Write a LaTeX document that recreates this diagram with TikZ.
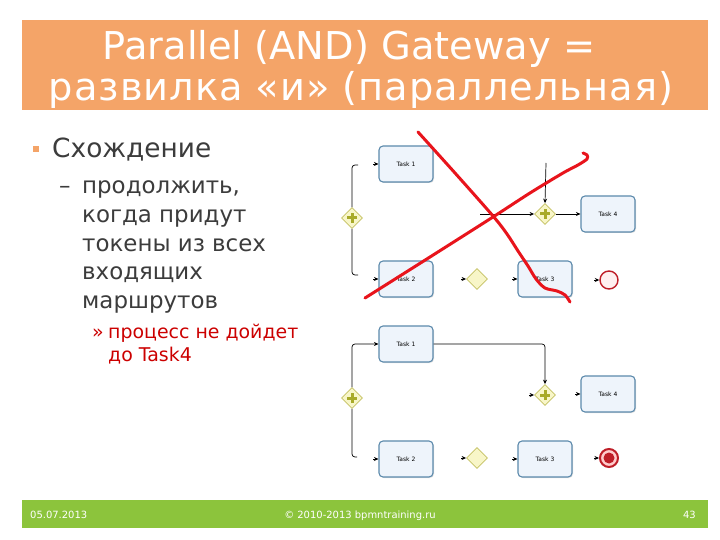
\documentclass[tikz,border=0pt]{standalone}
\usepackage{fontspec}
\setmainfont{DejaVu Sans}
\usetikzlibrary{shapes.geometric,arrows.meta,shadows}
\definecolor{titleorange}{RGB}{244,164,104}
\definecolor{footgreen}{RGB}{140,196,60}
\definecolor{taskline}{RGB}{92,138,172}
\definecolor{taskfill}{RGB}{238,244,251}
\definecolor{gwline}{RGB}{196,192,96}
\definecolor{gwfill}{RGB}{248,246,200}
\definecolor{gwplus}{RGB}{168,170,40}
\definecolor{endred}{RGB}{190,30,40}
\definecolor{strike}{RGB}{232,20,28}
\definecolor{bodytext}{RGB}{60,60,60}
\definecolor{notered}{RGB}{204,0,0}

\begin{document}
\begin{tikzpicture}[x=1bp, y=-1bp,
    task/.style={rectangle, rounded corners=4bp, draw=taskline, fill=taskfill, line width=1.1bp,
      minimum width=54bp, minimum height=36bp, font=\fontsize{6}{7}\selectfont,
      drop shadow={shadow xshift=1bp, shadow yshift=-1bp, opacity=.25}},
    gate/.style={diamond, aspect=1, draw=gwline, fill=gwfill, line width=.8bp,
      minimum width=21bp, minimum height=21bp, inner sep=0pt},
    andgate/.style={gate, path picture={\draw[gwplus, line width=3bp]
      (path picture bounding box.center) +(-5bp,0) -- +(5bp,0) +(0,-5bp) -- +(0,5bp);}},
    endev/.style={circle, draw=endred, line width=1.4bp, fill=red!6, minimum size=18bp, inner sep=0pt},
    termev/.style={endev, line width=2bp, fill=red!20, path picture={\fill[endred]
      (path picture bounding box.center) circle (5.5bp);}},
    flow/.style={-{Stealth[length=4.5bp,width=4bp]}, line width=.7bp},
    plain/.style={line width=.7bp, rounded corners=3bp},
    strikeline/.style={strike, line width=3bp, line cap=round, line join=round},
    txt/.style={anchor=base west, text=bodytext, inner sep=0pt},
    foot/.style={anchor=base, text=white, inner sep=0pt, font=\fontsize{10}{12}\selectfont}]
\useasboundingbox (0,0) rectangle (720,540);
\fill[white] (0,0) rectangle (720,540);

% title and footer
\fill[titleorange] (22,20) rectangle (708,110);
\node[anchor=base, text=white, font=\fontsize{38.5}{42}\selectfont] (title1) at (349,60) {Parallel (AND) Gateway =};
\node[anchor=base, text=white, font=\fontsize{38.5}{42}\selectfont\addfontfeature{LetterSpace=2.5}] (title2) at (361,101) {развилка «и» (параллельная)};
\fill[footgreen] (22,500) rectangle (708,528);
\node[foot, anchor=base west] (date) at (30,518) {05.07.2013};
\node[foot] (copy) at (360,518) {© 2010-2013 bpmntraining.ru};
\node[foot, anchor=base east] (page) at (696,518) {43};

% text
\fill[titleorange] (33,146) rectangle (39,152);
\node[txt, font=\fontsize{26.5}{30}\selectfont] (head) at (52,158) {Схождение};
\node[txt, font=\fontsize{23}{27}\selectfont] (dash) at (59,194) {–};
\foreach \line [count=\i from 0] in {{продолжить,}, {когда придут}, {токены из всех}, {входящих}, {маршрутов}}
  \node[txt, font=\fontsize{23}{27}\selectfont] (body\i) at (82,194+28.6*\i) {\line};
\node[txt, text=notered, font=\fontsize{19}{23}\selectfont] (quote) at (92,338) {»};
\node[txt, text=notered, font=\fontsize{19}{23}\selectfont] (note1) at (108,338) {процесс не дойдет};
\node[txt, text=notered, font=\fontsize{19}{23}\selectfont] (note2) at (108,361) {до Task4};

% upper diagram
\node[task] (t1a) at (406,164) {Task 1};
\node[task] (t2a) at (406,279) {Task 2};
\node[task] (t3a) at (545,279) {Task 3};
\node[task] (t4a) at (608,214) {Task 4};
\node[andgate] (fa) at (352,218) {};
\node[andgate] (ja) at (545,214) {};
\node[gate] (xa) at (477,279) {};
\node[endev] (ea) at (609,280) {};
\coordinate (ua) at (358,165);
\coordinate (la) at (358,275);
\coordinate (ca) at (480,214);
\coordinate (da) at (546,163);

\draw[plain] (fa.north) |- (ua);
\draw[plain] (fa.south) |- (la);
\draw[flow] ([xshift=-5bp]t1a.west) -- (t1a.west);
\draw[flow] ([xshift=-5bp]t2a.west) -- (t2a.west);
\draw[flow] ([xshift=-5bp]xa.west) -- (xa.west);
\draw[flow] ([xshift=-5bp]t3a.west) -- (t3a.west);
\draw[flow] ([xshift=-5bp]ea.west) -- (ea.west);
\draw[flow] (ca) -- (ja.west);
\draw[flow] (da) -- (ja.north);
\draw[flow] (ja.east) -- (t4a.west);

% lower diagram
\node[task] (t1b) at (406,344) {Task 1};
\node[task] (t4b) at (608,394) {Task 4};
\node[task] (t2b) at (406,459) {Task 2};
\node[task] (t3b) at (545,459) {Task 3};
\node[andgate] (fb) at (352,398) {};
\node[andgate] (jb) at (545,395) {};
\node[gate] (xb) at (477,458) {};
\node[termev] (eb) at (609,458) {};
\coordinate (lb) at (357,457);

\draw[flow, rounded corners=3bp] (fb.north) |- (t1b.west);
\draw[flow, rounded corners=3bp] (t1b.east) -| (jb.north);
\draw[plain] (fb.south) |- (lb);
\draw[flow] ([xshift=-5bp]jb.west) -- (jb.west);
\draw[flow] ([xshift=-5bp]t4b.west) -- (t4b.west);
\draw[flow] ([xshift=-5bp]t2b.west) -- (t2b.west);
\draw[flow] ([xshift=-5bp]xb.west) -- (xb.west);
\draw[flow] ([xshift=-5bp]t3b.west) -- (t3b.west);
\draw[flow] ([xshift=-5bp]eb.west) -- (eb.west);

% crossed out
\draw[strikeline] plot[smooth] coordinates {(418,132) (455,173) (493,216) (507,234) (518,251) (528,266) (536,279) (545,288) (557,291) (565,295) (570,302)};
\draw[strikeline] plot[smooth] coordinates {(365,298) (430,257) (493,217) (530,193) (563,173) (578,165) (587,159) (587,155) (583,153)};
\end{tikzpicture}
\end{document}
